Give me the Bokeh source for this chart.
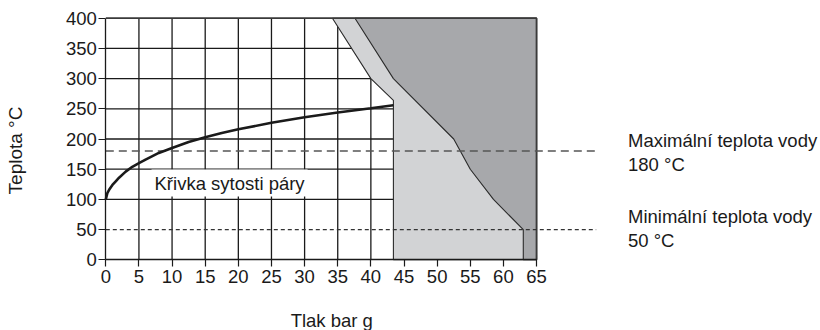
import math

from bokeh.core.properties import value
from bokeh.embed import file_html
from bokeh.models import FixedTicker, Range1d
from bokeh.plotting import figure
from bokeh.resources import INLINE

# Saturated steam curve: gauge pressure (bar g) vs temperature (°C)
sat_pressure = [0, 0.25, 0.5, 1, 1.5, 2, 3, 4, 5, 6, 8, 10, 12.5, 15, 17.5, 20, 25, 30, 35, 40, 43.4]
sat_temp = [100, 111, 116, 124, 130, 136, 146, 154, 160, 166, 177, 185, 195, 203, 210, 216, 227, 236, 244, 251, 256]

# Light grey zone (outside the operating area)
light_x = [34.2, 40.0, 43.4, 43.4, 65, 65]
light_y = [400, 300, 264, 0, 0, 400]

# Dark grey zone
dark_x = [37.6, 43.4, 52.5, 55.0, 58.5, 63.0, 63.0, 65, 65]
dark_y = [400, 300, 200, 150, 100, 50, 0, 0, 400]

# Reference temperatures
max_water_temp = 180
min_water_temp = 50

x_ticks = list(range(0, 70, 5))
y_ticks = list(range(0, 450, 50))
grid_x = [t for t in x_ticks if 0 < t <= 40]
grid_y = [t for t in y_ticks if 50 < t < 400]

FONT = "Liberation Sans"
FS = "18.5px"
INK = "#1a1a1a"

# The frame covers the whole canvas; axes sit at fixed data positions so that
# the axis titles and side notes can be placed as ordinary text.
p = figure(
    width=820, height=330,
    x_range=Range1d(-15.89, 107.85), y_range=Range1d(-117.0, 429.3),
    output_backend="svg", toolbar_location=None,
    min_border=0,
)
p.outline_line_color = None
p.xgrid.visible = False
p.ygrid.visible = False
p.background_fill_color = "white"

# grid (partly hidden under the grey zones)
p.segment(x0=grid_x, y0=[0] * len(grid_x), x1=grid_x, y1=[400] * len(grid_x),
          line_color=INK, line_width=1.3)
p.segment(x0=[0] * len(grid_y), y0=grid_y, x1=[65] * len(grid_y), y1=grid_y,
          line_color=INK, line_width=1.3)

p.patch(light_x, light_y, fill_color="#d2d3d5", line_color="#2a2a2a", line_width=1.1)
p.patch(dark_x, dark_y, fill_color="#a7a8ab", line_color="#2a2a2a", line_width=1.1)

# frame top and right edge
p.line([0, 65, 65], [400, 400, 0], line_color="#3a3a3a", line_width=1.8)

# temperature limits
p.line([0, 74], [max_water_temp, max_water_temp], line_color="#555555",
       line_width=1.5, line_dash="8 5")
p.line([0, 74], [min_water_temp, min_water_temp], line_color="#333333",
       line_width=1.3, line_dash="4 3")

# saturation curve
p.line(sat_pressure, sat_temp, line_color=INK, line_width=2.6)

p.text(x=[6.9], y=[127], text=["Křivka sytosti páry"], text_font=value(FONT),
       text_font_size=FS, text_color=INK, text_baseline="middle",
       background_fill_color="white", padding=3)

notes_x = [78.8, 78.8, 78.8, 78.8]
notes_y = [197, 157, 71, 31.5]
notes = ["Maximální teplota vody", f"{max_water_temp} °C",
         "Minimální teplota vody", f"{min_water_temp} °C"]
p.text(x=notes_x, y=notes_y, text=notes, text_font=value(FONT),
       text_font_size=FS, text_color=INK, text_baseline="middle")

# axis titles
p.text(x=[34.1], y=[-100.5], text=["Tlak bar g"], text_font=value(FONT),
       text_font_size=FS, text_color=INK, text_align="center", text_baseline="middle")
p.text(x=[-13.6], y=[181], text=["Teplota °C"], angle=math.pi / 2,
       text_font=value(FONT), text_font_size="19px", text_color=INK,
       text_align="center", text_baseline="middle")

for ax, ticks in ((p.xaxis[0], x_ticks), (p.yaxis[0], y_ticks)):
    ax.ticker = FixedTicker(ticks=ticks)
    ax.fixed_location = 0
    ax.minor_tick_line_color = None
    ax.major_tick_in = 0
    ax.major_tick_out = 7
    ax.axis_line_color = INK
    ax.axis_line_width = 1.3
    ax.major_tick_line_color = INK
    ax.major_tick_line_width = 1.2
    ax.major_label_text_font = FONT
    ax.major_label_text_font_size = FS
    ax.major_label_text_color = INK
p.xaxis.bounds = (0, 65)
p.yaxis.bounds = (0, 400)
p.xaxis.major_label_standoff = 3
p.yaxis.major_label_standoff = 2

open("out.html", "w").write(file_html(p, INLINE))
